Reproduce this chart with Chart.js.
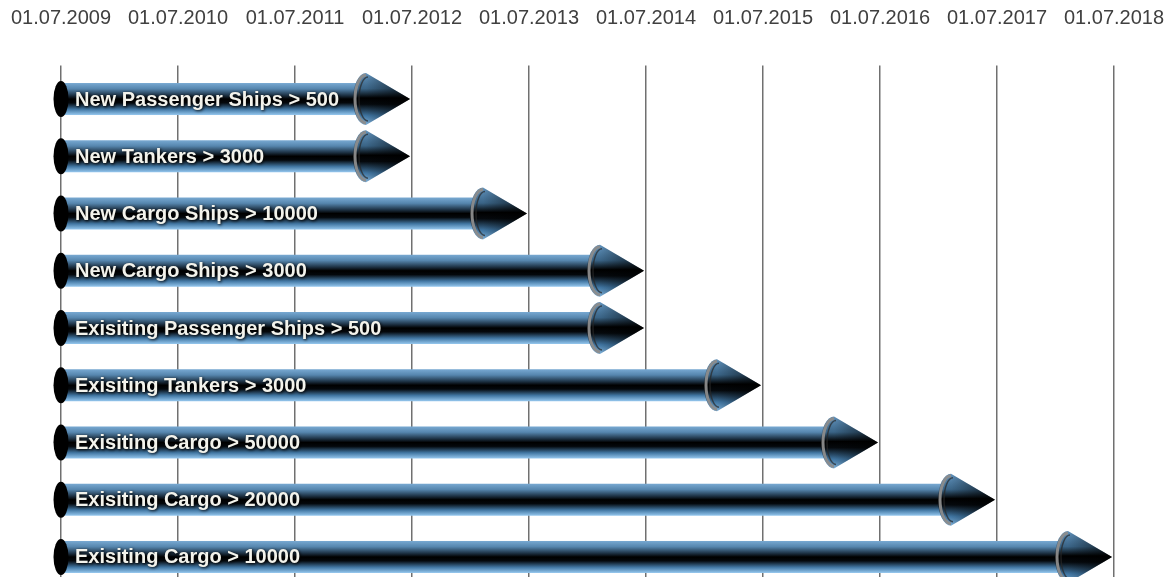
<!DOCTYPE html>
<html><head><meta charset="utf-8">
<script src="https://cdn.jsdelivr.net/npm/chart.js@4.4.0/dist/chart.umd.min.js"></script>
<style>html,body{margin:0;padding:0;background:#fff;overflow:hidden}#wrap{width:1172px;height:600px}</style>
</head><body><div id="wrap"><canvas id="c"></canvas></div>
<script>
const categories = ['New Passenger Ships > 500','New Tankers > 3000','New Cargo Ships > 10000','New Cargo Ships > 3000','Exisiting Passenger Ships > 500','Exisiting Tankers > 3000','Exisiting Cargo > 50000','Exisiting Cargo > 20000','Exisiting Cargo > 10000'];
const startYears = [2009,2009,2009,2009,2009,2009,2009,2009,2009];
const endYears = [2012,2012,2013,2014,2014,2015,2016,2017,2018];
const tickYears = [2009,2010,2011,2012,2013,2014,2015,2016,2017,2018];
const tickLabels = ['01.07.2009','01.07.2010','01.07.2011','01.07.2012','01.07.2013','01.07.2014','01.07.2015','01.07.2016','01.07.2017','01.07.2018'];

const arrowPlugin = {
  id: 'arrows',
  afterDatasetsDraw(chart) {
    const ctx = chart.ctx;
    const meta = chart.getDatasetMeta(0);
    meta.data.forEach((el, i) => {
      const p = el.getProps(['x','y','base'], true);
      const x0 = p.base, tip = p.x - 2, cy = p.y;
      const bh = 16, hh = 26, rx = 13;
      const bx = tip - 44;
      ctx.save();
      // body
      const g = ctx.createLinearGradient(0, cy - bh, 0, cy + bh);
      g.addColorStop(0, '#78a9d2');
      g.addColorStop(0.18, '#5686ae');
      g.addColorStop(0.38, '#1e3346');
      g.addColorStop(0.5, '#000000');
      g.addColorStop(0.62, '#04080c');
      g.addColorStop(0.82, '#4176a2');
      g.addColorStop(1, '#96c8ef');
      ctx.fillStyle = g;
      ctx.fillRect(x0, cy - bh, bx - x0, 2 * bh);
      // head
      ctx.beginPath();
      ctx.moveTo(bx, cy - hh);
      ctx.lineTo(tip, cy);
      ctx.lineTo(bx, cy + hh);
      ctx.ellipse(bx, cy, rx, hh, 0, Math.PI / 2, 3 * Math.PI / 2, false);
      ctx.closePath();
      const g2 = ctx.createLinearGradient(0, cy - hh, 0, cy + hh);
      g2.addColorStop(0, '#6193bd');
      g2.addColorStop(0.3, '#3a6486');
      g2.addColorStop(0.48, '#000000');
      g2.addColorStop(0.6, '#05090d');
      g2.addColorStop(0.82, '#3f74a0');
      g2.addColorStop(1, '#7fb1d9');
      ctx.fillStyle = g2;
      ctx.fill();
      const g3 = ctx.createLinearGradient(bx, 0, tip, 0);
      g3.addColorStop(0, 'rgba(0,0,0,0)');
      g3.addColorStop(1, 'rgba(0,0,0,0.65)');
      ctx.fillStyle = g3;
      ctx.fill();
      // collar
      ctx.beginPath();
      ctx.ellipse(bx, cy, rx - 2, hh - 2, 0, Math.PI / 2, 3 * Math.PI / 2, false);
      ctx.strokeStyle = 'rgba(140,140,140,0.95)';
      ctx.lineWidth = 3;
      ctx.stroke();
      ctx.beginPath();
      ctx.ellipse(bx + 2, cy, rx - 4, hh - 4, 0, Math.PI / 2, 3 * Math.PI / 2, false);
      ctx.strokeStyle = 'rgba(40,40,40,0.7)';
      ctx.lineWidth = 1.5;
      ctx.stroke();
      // left cap
      ctx.beginPath();
      ctx.ellipse(x0, cy, 7.5, 18, 0, 0, 2 * Math.PI);
      ctx.fillStyle = '#000';
      ctx.fill();
      // label
      ctx.font = 'bold 20px "Liberation Sans", Arial, sans-serif';
      ctx.textBaseline = 'middle';
      ctx.textAlign = 'left';
      ctx.shadowColor = 'rgba(0,0,0,0.95)';
      ctx.shadowBlur = 3;
      ctx.shadowOffsetX = 1;
      ctx.shadowOffsetY = 1;
      ctx.fillStyle = '#f3f3ec';
      ctx.fillText(categories[i], x0 + 14, cy + 1);
      ctx.restore();
    });
  }
};

new Chart(document.getElementById('c'), {
  type: 'bar',
  data: {
    labels: categories,
    datasets: [{
      data: endYears.map((e, i) => [startYears[i], e]),
      backgroundColor: 'rgba(0,0,0,0)',
      borderWidth: 0
    }]
  },
  options: {
    indexAxis: 'y',
    responsive: true,
    maintainAspectRatio: false,
    animation: false,
    layout: { padding: { left: 61, right: 58, top: 6, bottom: 14.4 } },
    plugins: { legend: { display: false }, tooltip: { enabled: false } },
    scales: {
      x: {
        type: 'linear',
        position: 'top',
        min: 2009,
        max: 2018,
        afterFit: (s) => { s.paddingLeft = 0; s.paddingRight = 0; s.paddingTop = 0; s.paddingBottom = 0; s.height = 64.4; },
        ticks: {
          stepSize: 1,
          autoSkip: false,
          maxRotation: 0,
          padding: 35,
          color: '#404040',
          font: { family: '"Liberation Sans", Arial, sans-serif', size: 20 },
          callback: (v) => { const k = tickYears.indexOf(v); return k >= 0 ? tickLabels[k] : ''; }
        },
        grid: { color: '#707070', lineWidth: 1.5, drawTicks: true, tickLength: 5, tickColor: '#707070' },
        border: { display: false }
      },
      y: { display: false }
    }
  },
  plugins: [arrowPlugin]
});
</script>
</body></html>
